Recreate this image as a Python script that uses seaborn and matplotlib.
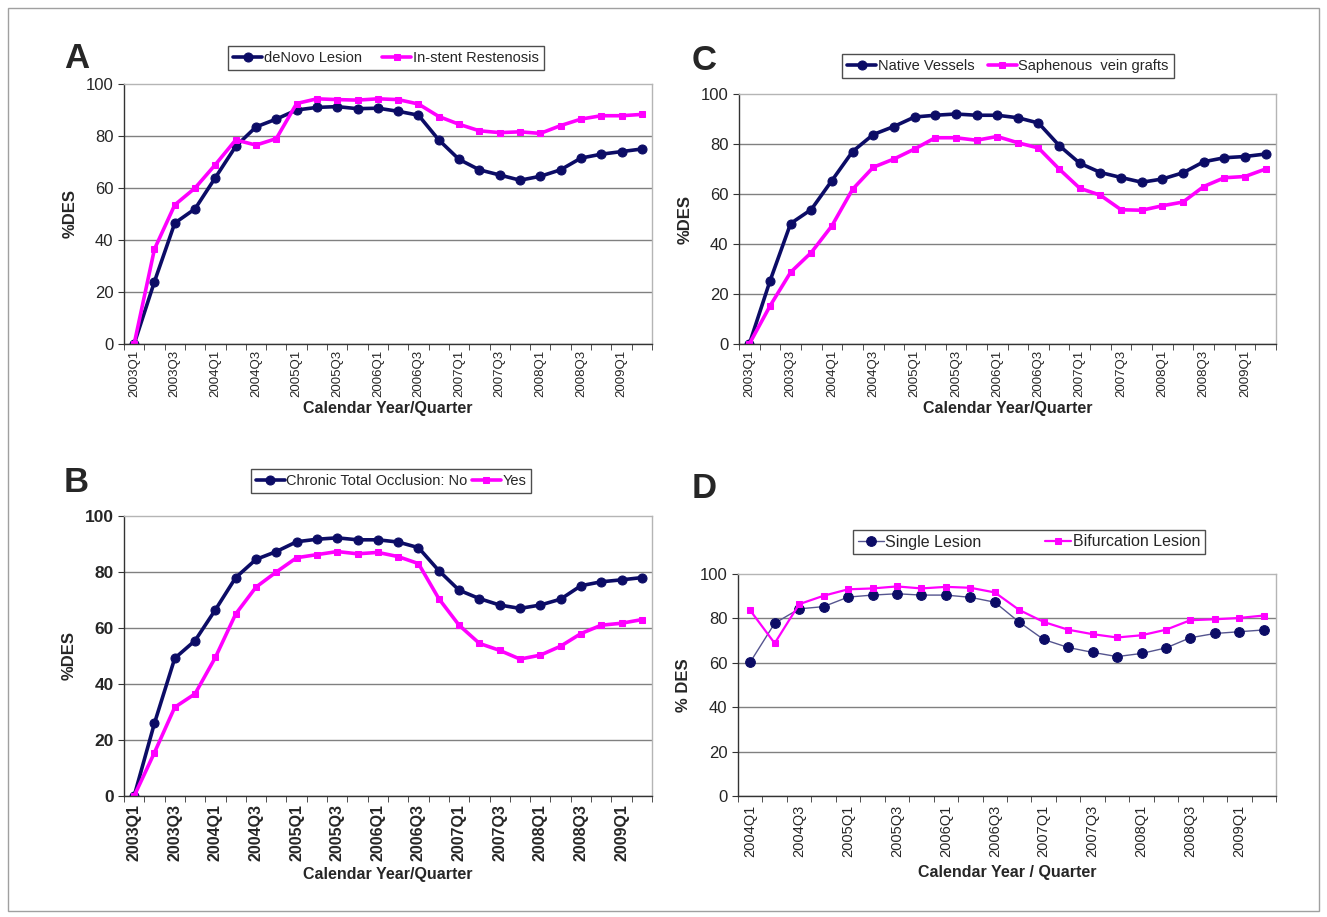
import matplotlib
matplotlib.use("Agg")
import matplotlib.pyplot as plt
from matplotlib.patches import Rectangle
import seaborn as sns
import pandas as pd

# quarters shown in panels A-C and D
quarters_abc = [f"{y}Q{q}" for y in range(2003, 2010) for q in range(1, 5)][:26]
quarters_d = [f"{y}Q{q}" for y in range(2004, 2010) for q in range(1, 5)][:22]

# panel A
denovo = [0, 24, 46.5, 52, 64, 76, 83.5, 86.5, 90, 91, 91.3, 90.5, 90.7, 89.5, 88,
          78.5, 71, 67, 65, 63, 64.5, 67, 71.5, 73, 74, 75]
instent = [0, 36.5, 53.5, 60, 69, 78.5, 76.5, 79, 92.5, 94.3, 94, 93.8, 94.3, 94, 92.3,
           87.5, 84.5, 82, 81.3, 81.6, 81, 84, 86.5, 87.8, 87.8, 88.3]

# panel B
cto_no = [0, 26, 49.2, 55.5, 66.5, 78, 84.5, 87.3, 90.8, 91.7, 92.2, 91.5, 91.5, 90.7, 88.7,
          80.5, 73.5, 70.5, 68.2, 67, 68.2, 70.3, 75.1, 76.5, 77.2, 78]
cto_yes = [0, 15.5, 31.7, 36.5, 49.5, 65, 74.6, 80, 85.1, 86.2, 87.3, 86.5, 87, 85.5, 83,
           70.5, 61, 54.5, 52, 48.9, 50.3, 53.5, 58, 61, 61.7, 63]

# panel C
native = [0, 25.2, 48.2, 53.8, 65.4, 77, 83.8, 87, 90.8, 91.5, 92, 91.5, 91.5, 90.5, 88.4,
          79.4, 72.3, 68.6, 66.6, 64.7, 66, 68.5, 72.9, 74.5, 75, 76]
saphenous = [0, 15.2, 28.7, 36.6, 47.3, 61.9, 70.7, 74, 78, 82.5, 82.5, 81.5, 83, 80.5, 78.4,
             70, 62.3, 59.5, 53.7, 53.5, 55.3, 56.8, 63, 66.5, 67, 70]

# panel D
single = [60.3, 77.8, 84.3, 85.3, 89.6, 90.5, 91.1, 90.5, 90.5, 89.5, 87.3, 78.3, 70.5,
          66.9, 64.7, 62.8, 64.2, 66.7, 71.3, 73.2, 74, 74.8]
bifurcation = [83.6, 68.8, 86.4, 90.2, 93.1, 93.5, 94.4, 93.5, 94.2, 93.8, 91.7, 83.8,
               78.4, 74.9, 72.9, 71.4, 72.4, 74.9, 79.2, 79.6, 80.2, 81.3]

NAVY = "#0c0c66"
MAGENTA = "#ff00ff"
W, H = 1327, 917

sns.set_style("white")
plt.rcParams["font.family"] = ["Liberation Sans", "DejaVu Sans"]

fig = plt.figure(figsize=(W / 100, H / 100), dpi=100)


def px_axes(left, top, right, bottom):
    return fig.add_axes([left / W, 1 - bottom / H, (right - left) / W, (bottom - top) / H])


def style_axes(ax, labels, ylabel, xlabel, xsize=9.5, ysize=12, weight="normal", xpad=3, tpad=4):
    n = len(labels)
    ax.set_xlim(-0.5, n - 0.5)
    ax.set_ylim(0, 100)
    ax.set_yticks(range(0, 101, 20))
    ax.set_yticklabels([str(v) for v in range(0, 101, 20)], fontsize=ysize, fontweight=weight)
    ax.set_xticks(range(0, n, 2))
    ax.set_xticklabels(labels[::2], rotation=90, fontsize=xsize, fontweight=weight)
    ax.set_xticks([i - 0.5 for i in range(n + 1)], minor=True)
    ax.tick_params(axis="x", which="major", length=0, pad=tpad)
    ax.tick_params(axis="x", which="minor", length=4, direction="out", color="#333333", bottom=True)
    ax.tick_params(axis="y", length=4, direction="out", color="#333333", left=True)
    ax.yaxis.grid(True, color="#808080", lw=1)
    ax.set_axisbelow(True)
    for g in ax.get_ygridlines()[-1:]:
        g.set_visible(False)
    for s in ["left", "bottom"]:
        ax.spines[s].set_color("#333333")
        ax.spines[s].set_linewidth(1)
    for s in ["top", "right"]:
        ax.spines[s].set_color("#b5b5b5")
        ax.spines[s].set_linewidth(1)
    ax.set_ylabel(ylabel, fontsize=12, fontweight="bold", labelpad=6)
    ax.set_xlabel(xlabel, fontsize=11.5, fontweight="bold", labelpad=xpad)


def thick_panel(ax, labels, s1, s2, n1, n2):
    df = pd.DataFrame({"q": range(len(labels)), "a": s1, "b": s2})
    sns.lineplot(data=df, x="q", y="a", ax=ax, color=NAVY, lw=2.6, marker="o",
                 markersize=6.5, markeredgecolor=NAVY, label=n1)
    sns.lineplot(data=df, x="q", y="b", ax=ax, color=MAGENTA, lw=2.6, marker="s",
                 markersize=4.5, markeredgecolor=MAGENTA, label=n2)


def put_legend(ax, cx, cy, fontsize=10.5, borderpad=0.35, **kw):
    leg = ax.legend(loc="center", bbox_to_anchor=(cx / W, 1 - cy / H),
                    bbox_transform=fig.transFigure, ncol=2, fontsize=fontsize,
                    frameon=True, fancybox=False, edgecolor="#222222",
                    handletextpad=0.1, borderpad=borderpad, **kw)
    leg.get_frame().set_linewidth(1)


axA = px_axes(124, 84, 652, 344)
thick_panel(axA, quarters_abc, denovo, instent, "deNovo Lesion", "In-stent Restenosis")
style_axes(axA, quarters_abc, "%DES", "Calendar Year/Quarter")
put_legend(axA, 386, 58, handlelength=2.0, columnspacing=1.4)

axB = px_axes(124, 516, 652, 796)
thick_panel(axB, quarters_abc, cto_no, cto_yes, "Chronic Total Occlusion: No", "Yes")
style_axes(axB, quarters_abc, "%DES", "Calendar Year/Quarter", xsize=11.5, ysize=12.5,
           weight="bold", xpad=4, tpad=6)
put_legend(axB, 391, 481, fontsize=10.5, handlelength=2.0, columnspacing=0.3)

axC = px_axes(739, 94, 1276, 344)
thick_panel(axC, quarters_abc, native, saphenous, "Native Vessels", "Saphenous  vein grafts")
style_axes(axC, quarters_abc, "%DES", "Calendar Year/Quarter")
put_legend(axC, 1008, 66, fontsize=10.5, handlelength=2.0, columnspacing=0.9)

axD = px_axes(738, 574, 1276, 796)
dfD = pd.DataFrame({"q": range(len(quarters_d)), "a": single, "b": bifurcation})
sns.lineplot(data=dfD, x="q", y="a", ax=axD, color="#55558f", lw=1, marker="o",
             markersize=7, markerfacecolor=NAVY, markeredgecolor=NAVY, label="Single Lesion")
sns.lineplot(data=dfD, x="q", y="b", ax=axD, color=MAGENTA, lw=1.6, marker="s",
             markersize=5, markeredgecolor=MAGENTA, label="Bifurcation Lesion")
style_axes(axD, quarters_d, "% DES", "Calendar Year / Quarter", xsize=10.5, xpad=6, tpad=6)
put_legend(axD, 1029, 542, fontsize=11.5, borderpad=0.3, handlelength=1.6, columnspacing=4.0)

for letter, x, y in [("A", 64, 58), ("B", 64, 483), ("C", 692, 60), ("D", 692, 488)]:
    fig.text(x / W, 1 - y / H, letter, fontsize=25, fontweight="bold", va="center", ha="left")

fig.add_artist(Rectangle((8 / W, 6 / H), (W - 16) / W, (H - 14) / H, transform=fig.transFigure,
                         fill=False, edgecolor="#a0a0a0", lw=1))

fig.savefig("out.png", dpi=100)
